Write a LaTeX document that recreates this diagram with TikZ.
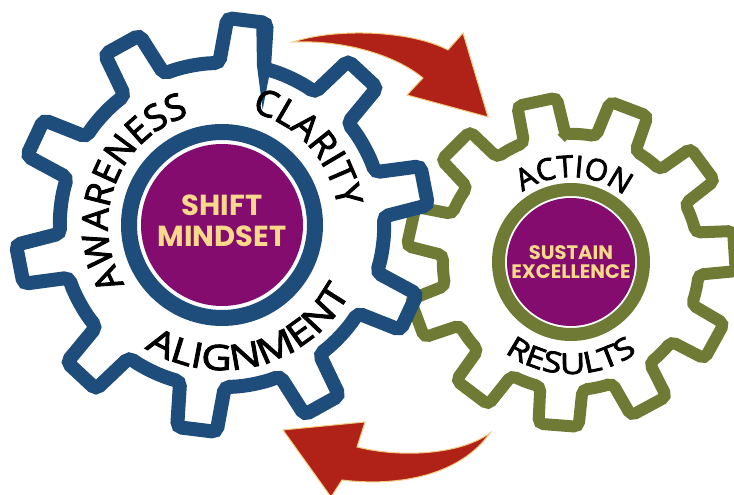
\documentclass[tikz,border=0pt]{standalone}
\usepackage{fontspec}
\setmainfont{Open Sans}
\newfontfamily\hubfont{Poppins}
\newfontfamily\arcfam{Open Sans}[FakeBold=2.6]
\newfontfamily\widearcfam{Open Sans}[FakeBold=2.6, FakeStretch=1.2]
\usetikzlibrary{decorations.text}
\definecolor{gearbluec}{HTML}{1E4D7B}
\definecolor{geargreenc}{HTML}{6F7B35}
\definecolor{hubpurple}{HTML}{840C6E}
\definecolor{hubyellow}{HTML}{F8D98A}
\definecolor{arrowred}{HTML}{B02117}
\definecolor{arrowedge}{HTML}{F2C97C}
\newcommand{\bigarcfont}{\arcfam\fontsize{36}{36}\selectfont}
\newcommand{\smallarcfont}{\arcfam\fontsize{30}{30}\selectfont}
\newcommand{\gearoutline}[6]{% teeth, offset, tip r, root r, half tip angle, half root angle
  ({#2-#6}:#4) \foreach \i in {1,...,#1}{
    -- ({#2+360/#1*(\i-1)-#5}:#3) -- ({#2+360/#1*(\i-1)+#5}:#3)
    -- ({#2+360/#1*(\i-1)+#6}:#4)
    arc[start angle={#2+360/#1*(\i-1)+#6}, end angle={#2+360/#1*\i-#6}, radius=#4]
  } -- cycle}
\tikzstyle{bluegear} = [
    draw=gearbluec,
    line width=14pt,
    rounded corners=5pt
    ]
\tikzstyle{greengear} = [
    draw=geargreenc,
    line width=12pt,
    rounded corners=5pt
    ]
\tikzstyle{hubtext} = [
    text=hubyellow,
    font=\hubfont\bfseries,
    align=center,
    inner sep=0pt
    ]
\tikzstyle{flowarrow} = [
    fill=arrowred,
    draw=arrowedge,
    line width=1pt,
    line join=miter
    ]

\begin{document}
\begin{tikzpicture}[x=1pt,y=1pt]
\fill[white] (0,0) rectangle (734,495);
\useasboundingbox (0,0) rectangle (734,495);

% green gear
\begin{scope}[shift={(571,233)}]
\draw[greengear] \gearoutline{11}{102}{165}{128}{7}{9.5};
\draw[geargreenc, line width=13pt] (0,0) circle (72.5);
\fill[hubpurple] (0,0) circle (64);
\path[decorate, decoration={text along path, text align=center,
    text={|\smallarcfont|ACTION}}] (135:85) arc[start angle=135, end angle=41, radius=85];
\path[decorate, decoration={text along path, text align=center,
    text={|\widearcfam\fontsize{29}{29}\selectfont|RESULTS}}] (215:112) arc[start angle=215, end angle=325, radius=112];
\node[hubtext, font=\hubfont\bfseries\fontsize{19.5}{19}\selectfont] (sustain) at (0,0) {SUSTAIN\\EXCELLENCE};
\end{scope}

% blue gear
\begin{scope}[shift={(222,270)}]
\draw[bluegear] \gearoutline{10}{83}{207}{162}{5.5}{8};
\draw[gearbluec, line width=16pt] (0,0) circle (93);
\fill[hubpurple] (0,0) circle (81);
\path[decorate, decoration={text along path, text align=center,
    text={|\bigarcfont|AWARENESS}}] (218:114) arc[start angle=218, end angle=100, radius=114];
\path[decorate, decoration={text along path, text align=center,
    text={|\bigarcfont|CLARITY}}] (85:117) arc[start angle=85, end angle=-1, radius=117];
\path[decorate, decoration={text along path, text align=center,
    text={|\widearcfam\fontsize{35}{35}\selectfont|ALIGNMENT}}] (215:145) arc[start angle=215, end angle=355, radius=145];
\node[hubtext, font=\hubfont\bfseries\fontsize{29}{31}\selectfont] (shift) at (0,4) {SHIFT\\MINDSET};
\end{scope}

% arrows
\draw[flowarrow] (293,453) .. controls (335,467) and (410,465) .. (448,445)
    -- (463,462) -- (488,378) -- (407,400) -- (423,417)
    .. controls (395,440) and (345,455) .. (293,453) -- cycle;
\draw[flowarrow] (490,62) .. controls (460,40) and (400,37) .. (357,48)
    -- (365,73) -- (283,65) -- (331,-2) -- (342,15)
    .. controls (400,8) and (460,20) .. (490,62) -- cycle;
\end{tikzpicture}
\end{document}
